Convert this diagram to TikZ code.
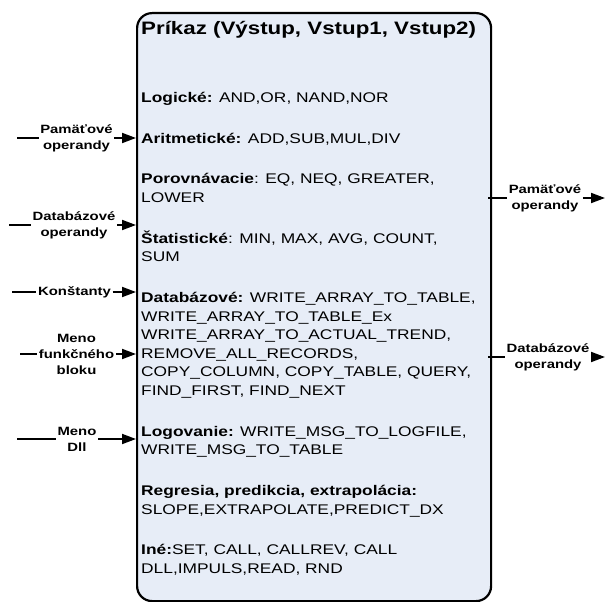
\documentclass[tikz,border=0pt]{standalone}
\usepackage{fontspec}
\setmainfont{Liberation Sans}[FakeStretch=1.24]
\usetikzlibrary{arrows.meta}
\definecolor{boxfill}{RGB}{231,237,247}
\begin{document}
\begin{tikzpicture}[x=1pt,y=-1pt,
  conn/.style={line width=1.8pt},
  arr/.style={line width=1.8pt,-{Triangle[length=14pt,width=10pt]}},
  lab/.style={font=\bfseries\fontsize{12pt}{16pt}\selectfont, align=center, inner sep=1.5pt},
]
\useasboundingbox (0,0) rectangle (609,601);
\node[draw, line width=2.2pt, fill=boxfill, rounded corners=15pt,
      minimum width=354pt, minimum height=588pt, anchor=north west, inner sep=0] (box) at (136,12) {};
\node[anchor=base west, inner sep=0, font=\bfseries\fontsize{18pt}{22pt}\selectfont] (title) at (141,35)
  {Príkaz (Výstup, Vstup1, Vstup2)};
\node[anchor=base west, inner sep=0] (body) at (141,102.5) {\parbox[t]{420pt}{%
  \fontsize{14pt}{18.6pt}\selectfont\setlength{\parskip}{22.1pt}\raggedright
  \textbf{Logické:} AND,OR, NAND,NOR\par
  \textbf{Aritmetické:} ADD,SUB,MUL,DIV\par
  \textbf{Porovnávacie}: EQ, NEQ, GREATER,\\ LOWER\par
  \textbf{Štatistické}: MIN, MAX, AVG, COUNT,\\ SUM\par
  \textbf{Databázové:} WRITE\_ARRAY\_TO\_TABLE,\\ WRITE\_ARRAY\_TO\_TABLE\_Ex\\
  WRITE\_ARRAY\_TO\_ACTUAL\_TREND,\\ REMOVE\_ALL\_RECORDS,\\
  COPY\_COLUMN, COPY\_TABLE, QUERY,\\ FIND\_FIRST, FIND\_NEXT\par
  \textbf{Logovanie:} WRITE\_MSG\_TO\_LOGFILE,\\ WRITE\_MSG\_TO\_TABLE\par
  \textbf{Regresia, predikcia, extrapolácia:}\\ SLOPE,EXTRAPOLATE,PREDICT\_DX\par
  \textbf{Iné:}SET, CALL, CALLREV, CALL\\ DLL,IMPULS,READ, RND\par}};
% left inputs
\coordinate (s1) at (17,138);
\coordinate (s2) at (9,225);
\coordinate (s3) at (12,292);
\coordinate (s4) at (20,354);
\coordinate (s5) at (17,439);
\node[lab] (p1) at (76.5,138) {Pamäťové\\operandy};
\node[lab] (p2) at (74,225) {Databázové\\operandy};
\node[lab] (p3) at (74.5,292) {Konštanty};
\node[lab] (p4) at (76.5,354) {Meno\\funkčného\\bloku};
\node[lab] (p5) at (77,439) {Meno\\Dll};
\foreach \i in {1,...,5}{
  \draw[conn] (s\i) -- (p\i);
  \draw[arr] (p\i) -- (box.west |- p\i);
}
% right outputs
\coordinate (e1) at (605,198);
\coordinate (e2) at (605,357);
\node[lab] (q1) at (545,198) {Pamäťové\\operandy};
\node[lab] (q2) at (548,357) {Databázové\\operandy};
\foreach \i in {1,2}{
  \draw[conn] ([xshift=-4pt]box.east |- q\i) -- (q\i);
  \draw[arr] (q\i) -- (e\i);
}
\end{tikzpicture}
\end{document}
